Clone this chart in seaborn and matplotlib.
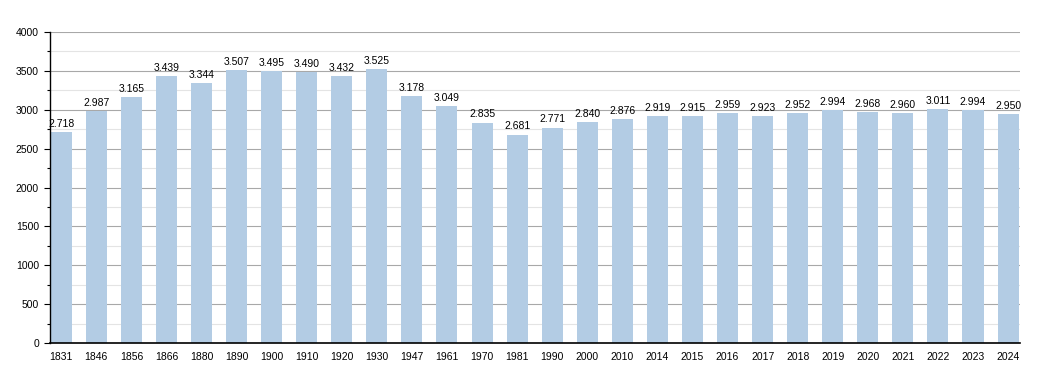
import matplotlib
matplotlib.use("Agg")
import matplotlib.pyplot as plt
from matplotlib.ticker import MultipleLocator
import pandas as pd
import seaborn as sns

years = ["1831", "1846", "1856", "1866", "1880", "1890", "1900", "1910", "1920", "1930",
         "1947", "1961", "1970", "1981", "1990", "2000", "2010", "2014", "2015", "2016",
         "2017", "2018", "2019", "2020", "2021", "2022", "2023", "2024"]
population = [2718, 2987, 3165, 3439, 3344, 3507, 3495, 3490, 3432, 3525,
              3178, 3049, 2835, 2681, 2771, 2840, 2876, 2919, 2915, 2959,
              2923, 2952, 2994, 2968, 2960, 3011, 2994, 2950]

df = pd.DataFrame({"year": years, "pop": population})

sns.set_style("white")
plt.rcParams['font.family'] = ['Liberation Sans', 'DejaVu Sans']
plt.rcParams['text.color'] = 'black'
plt.rcParams['xtick.color'] = 'black'
plt.rcParams['ytick.color'] = 'black'

fig = plt.figure(figsize=(10.5, 3.73), dpi=100)
ax = fig.add_axes([50 / 1050, 30 / 373, 970 / 1050, 311 / 373])

sns.barplot(data=df, x="year", y="pop", color="#b3cce4", width=0.6,
            saturation=1, linewidth=0, edgecolor="none", ax=ax, zorder=3)

# grid: major every 500, minor every 250
ax.set_ylim(0, 4000)
ax.yaxis.set_major_locator(MultipleLocator(500))
ax.yaxis.set_minor_locator(MultipleLocator(250))
ax.grid(axis="y", which="major", color="#a8a8a8", linewidth=0.8, zorder=0)
ax.grid(axis="y", which="minor", color="#e4e4e4", linewidth=0.8, zorder=0)
ax.set_axisbelow(True)
ax.set_xlim(-0.32, len(years) - 1 + 0.34)

for i, v in enumerate(population):
    lbl = f"{v:,}".replace(",", ".")
    ax.text(i, v + 40, lbl, ha="center", va="bottom", fontsize=7.5,
            color="black", zorder=4)

for s in ["top", "right"]:
    ax.spines[s].set_visible(False)
for s in ["left", "bottom"]:
    ax.spines[s].set_color("black")
    ax.spines[s].set_zorder(5)
ax.spines["left"].set_linewidth(1)
ax.spines["bottom"].set_linewidth(1.2)

ax.tick_params(axis="y", which="major", left=True, length=4, width=0.8,
               labelsize=7.5, pad=4)
ax.tick_params(axis="y", which="minor", left=True, length=2.5, width=0.8)
ax.tick_params(axis="x", bottom=False, labelsize=7.5, pad=3)
ax.set_xlabel("")
ax.set_ylabel("")

fig.savefig("out.png", dpi=100)
